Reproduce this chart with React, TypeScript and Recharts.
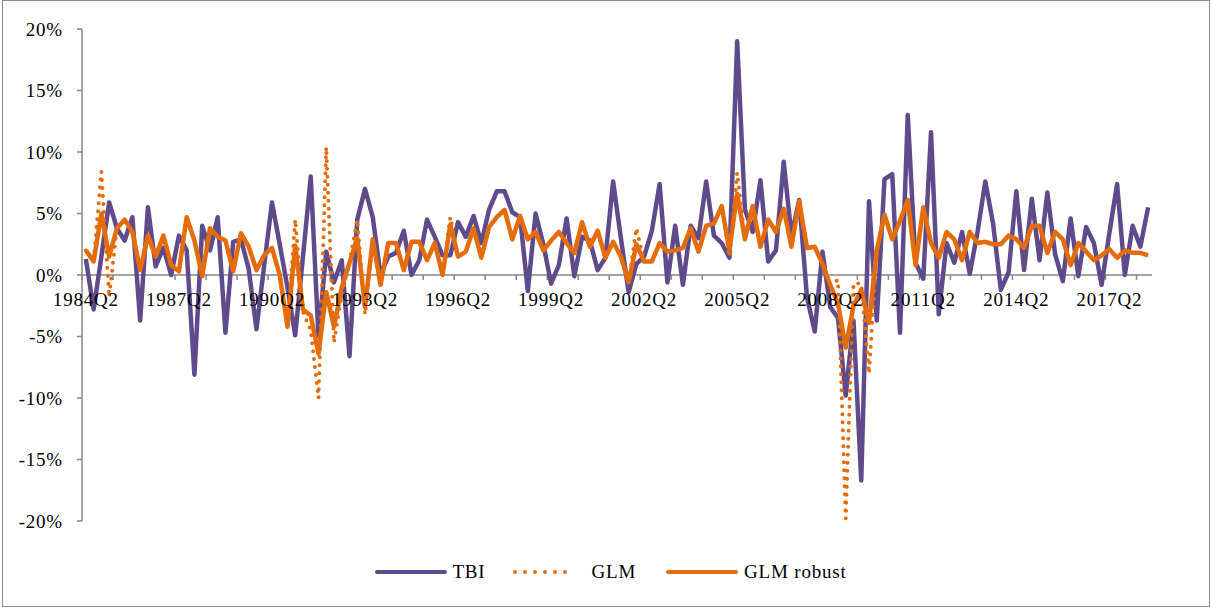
import React from "react";
import {
  LineChart,
  Line,
  XAxis,
  YAxis,
  ReferenceLine,
  ReferenceDot,
  Legend,
} from "recharts";

// quarterly series, 1984Q2 .. 2018Q3 (138 quarters)
const FIRST_YEAR = 1984;
const FIRST_QUARTER = 2;
const N_QUARTERS = 138;

const quarters: string[] = Array.from({ length: N_QUARTERS }, (_, i) => {
  const q = FIRST_QUARTER - 1 + i;
  return `${FIRST_YEAR + Math.floor(q / 4)}Q${(q % 4) + 1}`;
});

const xLabels = [
  "1984Q2", "1987Q2", "1990Q2", "1993Q2", "1996Q2", "1999Q2",
  "2002Q2", "2005Q2", "2008Q2", "2011Q2", "2014Q2", "2017Q2",
];

const yTicks = [-20, -15, -10, -5, 0, 5, 10, 15, 20];

// values in %
const tbi = [
  1.3, -2.8, 1.5, 5.9, 3.8, 2.8, 4.7, -3.7, 5.5, 0.7,
  2.2, 0.0, 3.2, 2.0, -8.1, 4.0, 2.0, 4.7, -4.7, 2.7,
  2.9, 0.5, -4.4, 0.8, 5.9, 2.5, -1.0, -4.9, 1.5, 8.0,
  -5.0, 1.9, -0.6, 1.2, -6.6, 4.5, 7.0, 4.7, 0.0, 1.5,
  1.8, 3.6, 0.0, 1.2, 4.5, 3.1, 1.6, 1.6, 4.3, 3.1,
  4.8, 2.6, 5.3, 6.8, 6.8, 5.1, 4.7, -1.3, 5.0, 2.5,
  -0.7, 0.8, 4.6, -0.1, 3.1, 2.8, 0.4, 1.4, 7.6, 3.0,
  -1.4, 0.9, 1.5, 3.6, 7.4, -0.6, 4.0, -0.8, 4.0, 3.0,
  7.6, 3.2, 2.6, 1.4, 19.0, 5.3, 3.5, 7.7, 1.1, 2.0,
  9.2, 3.2, 6.1, -1.8, -4.6, 1.9, -2.6, -3.5, -9.8, -3.7,
  -16.7, 6.0, -3.7, 7.8, 8.2, -4.7, 13.0, 1.0, -0.3, 11.6,
  -3.2, 2.6, 1.0, 3.5, 0.1, 3.5, 7.6, 4.2, -1.2, 0.2,
  6.8, 0.4, 6.2, 1.2, 6.7, 1.7, -0.5, 4.6, -0.1, 3.9,
  2.6, -0.8, 3.4, 7.4, 0.0, 4.0, 2.3, 5.5,
];

const glm = [
  2.0, 1.1, 8.4, -1.8, 3.8, 4.5, 3.5, 0.4, 3.2, 1.5,
  3.2, 0.8, 0.3, 4.7, 2.8, -0.1, 3.8, 3.1, 2.8, 0.3,
  3.4, 2.3, 0.4, 1.6, 2.2, 0.0, -4.2, 4.5, -3.0, -4.5,
  -10.0, 10.4, -5.5, -1.5, 1.0, 4.5, -3.2, 2.9, -0.8, 2.6,
  2.6, 0.4, 2.7, 2.7, 1.2, 2.6, 0.0, 4.7, 1.5, 1.9,
  3.8, 1.4, 3.9, 4.7, 5.3, 2.9, 4.8, 2.9, 3.5, 2.0,
  2.8, 3.5, 2.6, 1.8, 4.3, 2.3, 3.6, 1.4, 2.7, 1.5,
  -0.6, 3.8, 1.1, 1.1, 2.6, 1.9, 2.0, 2.2, 3.8, 1.9,
  4.0, 4.2, 5.6, 1.5, 8.3, 2.9, 5.6, 2.3, 4.5, 3.5,
  5.4, 2.3, 6.0, 2.2, 2.3, 0.9, -0.8, -0.4, -19.8, -0.7,
  -0.7, -8.0, 2.0, 4.9, 2.9, 4.4, 6.1, 0.6, 5.5, 2.6,
  1.4, 3.5, 2.9, 1.2, 3.5, 2.6, 2.7, 2.5, 2.5, 3.2,
  2.9, 2.2, 4.0, 4.0, 1.8, 3.5, 2.9, 0.8, 2.6, 1.9,
  1.2, 1.6, 2.1, 1.4, 2.0, 1.8, 1.8, 1.6,
];

const glmRobust = [
  2.0, 1.1, 5.0, 1.5, 3.8, 4.5, 3.5, 0.4, 3.2, 1.5,
  3.2, 0.8, 0.3, 4.7, 2.8, -0.1, 3.8, 3.1, 2.8, 0.3,
  3.4, 2.3, 0.4, 1.6, 2.2, 0.0, -4.2, 2.4, -2.8, -3.3,
  -6.4, -1.4, -4.2, -1.0, 1.0, 3.0, -2.6, 2.9, -0.8, 2.6,
  2.6, 0.4, 2.7, 2.7, 1.2, 2.6, 0.0, 4.1, 1.5, 1.9,
  3.8, 1.4, 3.9, 4.7, 5.3, 2.9, 4.8, 2.9, 3.5, 2.0,
  2.8, 3.5, 2.6, 1.8, 4.3, 2.3, 3.6, 1.4, 2.7, 1.5,
  -0.6, 2.5, 1.1, 1.1, 2.6, 1.9, 2.0, 2.2, 3.8, 1.9,
  4.0, 4.2, 5.6, 2.0, 6.6, 2.9, 5.6, 2.3, 4.5, 3.5,
  5.4, 2.3, 6.0, 2.2, 2.3, 0.9, -0.8, -2.3, -5.9, -2.5,
  -1.2, -3.9, 2.0, 4.9, 2.9, 4.4, 6.1, 0.8, 5.5, 2.6,
  1.4, 3.5, 2.9, 1.2, 3.5, 2.6, 2.7, 2.5, 2.5, 3.2,
  2.9, 2.2, 4.0, 4.0, 1.8, 3.5, 2.9, 0.8, 2.6, 1.9,
  1.2, 1.6, 2.1, 1.4, 2.0, 1.8, 1.8, 1.6,
];

const PURPLE = "#5F4B8B";
const ORANGE = "#E46C0A";
const AXIS = "#868686";
const FONT = "'Liberation Serif', 'Times New Roman', serif";
const FONT_SIZE = 19;

const rows = quarters.map((q, i) => ({
  i,
  quarter: q,
  tbi: tbi[i],
  glm: glm[i],
  robust: glmRobust[i],
}));

// year tick marks sit between categories
const boundaries: number[] = [];
for (let b = -0.5; b < N_QUARTERS; b += 4) boundaries.push(b);

function ChartLegend() {
  const text = { fontFamily: FONT, fontSize: FONT_SIZE, letterSpacing: 0.8, color: "#000" };
  return (
    <div
      style={{
        display: "flex",
        justifyContent: "center",
        alignItems: "center",
        height: 28,
        paddingLeft: 10,
      }}
    >
      <svg width={72} height={10} style={{ marginRight: 5 }}>
        <line x1={2} y1={5} x2={70} y2={5} stroke={PURPLE} strokeWidth={4} strokeLinecap="round" />
      </svg>
      <span style={text}>TBI</span>
      <svg width={64} height={10} style={{ marginLeft: 28, marginRight: 14 }}>
        <line
          x1={2}
          y1={5}
          x2={62}
          y2={5}
          stroke={ORANGE}
          strokeWidth={4}
          strokeDasharray="0 10"
          strokeLinecap="round"
        />
      </svg>
      <span style={text}>GLM</span>
      <svg width={72} height={10} style={{ marginLeft: 30, marginRight: 6 }}>
        <line x1={2} y1={5} x2={70} y2={5} stroke={ORANGE} strokeWidth={4} strokeLinecap="round" />
      </svg>
      <span style={text}>GLM robust</span>
    </div>
  );
}

export default function App() {
  return (
    <div style={{ position: "absolute", left: 0, top: 0, width: 1212, height: 607, background: "#fff" }}>
      <div
        style={{
          position: "absolute",
          left: 2,
          top: 0,
          width: 1208,
          height: 607,
          boxSizing: "border-box",
          border: "1px solid #8a8a8a",
        }}
      />
      <LineChart
        width={1212}
        height={607}
        data={rows}
        margin={{ top: 29, right: 60, bottom: 86, left: 0 }}
      >
        <XAxis dataKey="i" type="number" domain={[-0.5, N_QUARTERS - 0.5]} hide />
        <YAxis
          domain={[-20, 20]}
          ticks={yTicks}
          interval={0}
          width={82}
          tickFormatter={(v) => `${v}%`}
          axisLine={{ stroke: AXIS, strokeWidth: 1.5 }}
          tickLine={{ stroke: AXIS, strokeWidth: 1.5 }}
          tickSize={5}
          tickMargin={14}
          tick={{ fill: "#000", fontSize: FONT_SIZE, fontFamily: FONT, letterSpacing: 0.8 }}
        />
        <ReferenceLine y={0} stroke={AXIS} strokeWidth={1.5} />
        {boundaries.map((b) => (
          <ReferenceLine
            key={`tick-${b}`}
            segment={[
              { x: b, y: 0 },
              { x: b, y: -0.4 },
            ]}
            stroke={AXIS}
            strokeWidth={1.5}
          />
        ))}
        {xLabels.map((lbl) => (
          <ReferenceDot
            key={lbl}
            x={quarters.indexOf(lbl)}
            y={0}
            r={0}
            fill="none"
            stroke="none"
            label={{
              value: lbl,
              position: "bottom",
              offset: 18,
              fill: "#000",
              fontSize: FONT_SIZE,
              fontFamily: FONT,
              letterSpacing: 0.8,
            }}
          />
        ))}
        <Line
          dataKey="tbi"
          stroke={PURPLE}
          strokeWidth={4.5}
          strokeLinejoin="round"
          dot={false}
          isAnimationActive={false}
        />
        <Line
          dataKey="glm"
          stroke={ORANGE}
          strokeWidth={4}
          strokeDasharray="0 8"
          strokeLinecap="round"
          dot={false}
          isAnimationActive={false}
        />
        <Line
          dataKey="robust"
          stroke={ORANGE}
          strokeWidth={4.5}
          strokeLinejoin="round"
          dot={false}
          isAnimationActive={false}
        />
        <Legend
          verticalAlign="middle"
          align="center"
          layout="horizontal"
          wrapperStyle={{ top: 558, left: 0, width: 1212 }}
          content={() => <ChartLegend />}
        />
      </LineChart>
    </div>
  );
}
